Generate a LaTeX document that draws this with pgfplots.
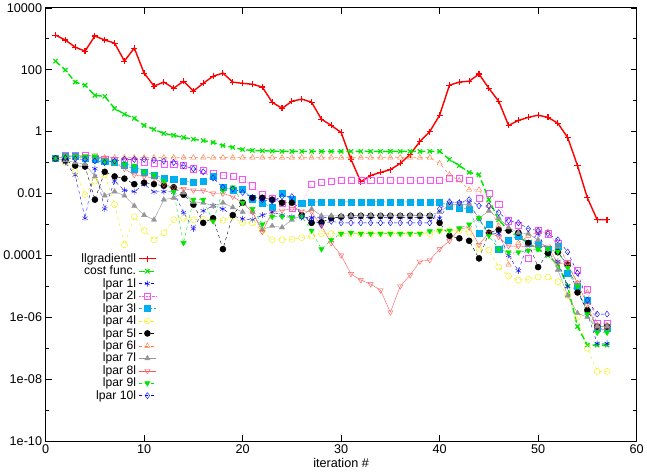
\documentclass[border=0pt]{standalone}
\usepackage{pgfplots}
\pgfplotsset{compat=1.18}
\usepackage{fontspec}
\setmainfont{Liberation Sans}
\definecolor{cmag}{RGB}{255,80,255}
\definecolor{corange}{RGB}{255,120,60}
\definecolor{cgrey}{RGB}{150,150,150}
\definecolor{clred}{RGB}{255,90,90}
\definecolor{cgreen}{RGB}{0,230,0}
\definecolor{cyell}{RGB}{240,240,0}
\begin{document}
\begin{tikzpicture}
\begin{axis}[
  scale only axis, width=584pt, height=428pt,
  xmin=0, xmax=60, ymin=-10, ymax=4,
  xtick={0,10,...,60}, ytick={-10,-8,...,4},
  yticklabels={1e-10,1e-08,1e-06,0.0001,0.01,1,100,10000},
  minor ytick={-9,-7,...,3},
  tick align=inside, tick style={black, line width=0.6pt},
  major tick length=6pt, minor tick length=3.5pt,
  xticklabel style={font=\fontsize{12.5}{14}\selectfont},
  yticklabel style={font=\fontsize{12.5}{14}\selectfont},
  xlabel={iteration \#}, xlabel style={font=\fontsize{12.5}{14}\selectfont, yshift=2pt},
  /pgf/number format/assume math mode=true,
  axis line style={line width=0.8pt},
  legend plot pos=right, legend cell align=right,
  legend style={draw=none, fill=none, at={(0.055,0.44)}, anchor=north west,
     font=\fontsize{12}{12.5}\selectfont, row sep=-1.9pt, inner sep=1pt},
  every axis plot/.append style={mark size=3pt},
]
\addplot[red, line width=1.4pt, mark=+, mark options={solid, line width=1.1pt}] coordinates {
(1,3.12)(2,2.96)(3,2.73)(4,2.60)(5,3.09)(6,2.96)(7,2.86)(8,2.28)(9,2.70)(10,1.89)
(11,1.47)(12,1.60)(13,1.40)(14,1.63)(15,1.31)(16,1.56)(17,1.79)(18,1.89)(19,1.60)(20,1.56)
(21,1.53)(22,1.44)(23,0.95)(24,0.75)(25,0.98)(26,1.05)(27,0.95)(28,0.40)(29,0.20)(30,-0.03)
(31,-0.9)(32,-1.62)(33,-1.42)(34,-1.32)(35,-1.23)(36,-1.03)(37,-0.74)(38,-0.32)(39,0.0)(40,0.53)
(41,1.5)(42,1.6)(43,1.63)(44,1.86)(45,1.40)(46,0.98)(47,0.2)(48,0.36)(49,0.46)(50,0.53)
(51,0.46)(52,0.27)(53,-0.19)(54,-1.1)(55,-2.14)(56,-2.85)(57,-2.85)};
\addlegendentry{llgradientll}
\addplot[cgreen, line width=1.4pt, dash pattern=on 6pt off 3pt, mark=x, mark options={solid, line width=1.1pt}] coordinates {
(1,2.28)(2,1.99)(3,1.60)(4,1.5)(5,1.17)(6,1.14)(7,0.75)(8,0.56)(9,0.43)(10,0.2)
(11,0.07)(12,-0.06)(13,-0.12)(14,-0.19)(15,-0.25)(16,-0.29)(17,-0.35)(18,-0.45)(19,-0.51)(20,-0.58)
(21,-0.61)(22,-0.62)(23,-0.63)(24,-0.64)(25,-0.64)(26,-0.64)(27,-0.64)(28,-0.64)(29,-0.64)(30,-0.64)
(31,-0.64)(32,-0.64)(33,-0.64)(34,-0.64)(35,-0.64)(36,-0.64)(37,-0.64)(38,-0.64)(39,-0.64)(40,-0.64)
(41,-0.9)(42,-1.1)(43,-1.32)(44,-1.39)(45,-2.2)(46,-2.85)(47,-3.2)(48,-3.4)(49,-3.6)(50,-3.8)
(51,-4.0)(52,-4.3)(53,-5.0)(54,-6.3)(55,-6.9)(56,-6.9)(57,-6.9)};
\addlegendentry{cost func.}
\addplot[blue, thin, dashed, mark=asterisk, mark options={solid}] coordinates {
(1,-0.87)(2,-1.0)(3,-1.4)(4,-2.8)(5,-1.2)(6,-2.5)(7,-1.6)(8,-1.9)(9,-1.94)(10,-1.7)
(11,-1.95)(12,-1.94)(13,-1.95)(14,-2.62)(15,-3.14)(16,-2.56)(17,-2.4)(18,-2.5)(19,-2.72)(20,-2.82)
(21,-2.85)(22,-2.7)(23,-2.6)(24,-2.7)(25,-2.75)(26,-2.78)(27,-2.78)(28,-2.78)(29,-2.78)(30,-2.78)
(31,-2.78)(32,-2.78)(33,-2.78)(34,-2.78)(35,-2.78)(36,-2.78)(37,-2.78)(38,-2.78)(39,-2.78)(40,-2.8)
(41,-2.3)(42,-2.3)(43,-2.3)(44,-2.85)(45,-3.27)(46,-3.3)(47,-4.0)(48,-4.5)(49,-3.6)(50,-3.3)
(51,-3.93)(52,-4.2)(53,-5.0)(54,-5.1)(55,-5.87)(56,-6.85)(57,-6.85)};
\addlegendentry{lpar 1l}
\addplot[cmag, thin, densely dotted, mark=square, mark options={solid}] coordinates {
(1,-0.87)(2,-0.77)(3,-0.77)(4,-0.77)(5,-0.85)(6,-0.9)(7,-0.92)(8,-0.95)(9,-0.97)(10,-1.0)
(11,-1.03)(12,-1.06)(13,-1.06)(14,-1.1)(15,-1.2)(16,-1.25)(17,-1.35)(18,-1.42)(19,-1.45)(20,-1.55)
(21,-1.75)(22,-2.04)(23,-2.14)(24,-2.3)(25,-2.46)(26,-2.3)(27,-1.7)(28,-1.65)(29,-1.6)(30,-1.58)
(31,-1.58)(32,-1.58)(33,-1.58)(34,-1.58)(35,-1.58)(36,-1.58)(37,-1.58)(38,-1.58)(39,-1.58)(40,-1.58)
(41,-1.52)(42,-1.52)(43,-1.58)(44,-2.14)(45,-2.0)(46,-2.36)(47,-2.88)(48,-3.04)(49,-4.1)(50,-3.2)
(51,-3.3)(52,-3.6)(53,-4.25)(54,-4.47)(55,-5.1)(56,-6.2)(57,-6.2)};
\addlegendentry{lpar 2l}
\addplot[cyan, thin, dash dot, mark=square*, mark options={solid}] coordinates {
(1,-0.87)(2,-0.8)(3,-0.8)(4,-0.85)(5,-0.9)(6,-0.95)(7,-1.0)(8,-1.1)(9,-1.2)(10,-1.3)
(11,-1.4)(12,-1.5)(13,-1.55)(14,-1.6)(15,-1.65)(16,-1.6)(17,-1.45)(18,-1.8)(19,-1.9)(20,-1.87)
(21,-2.17)(22,-2.3)(23,-2.45)(24,-2.0)(25,-2.2)(26,-2.3)(27,-2.27)(28,-2.27)(29,-2.27)(30,-2.27)
(31,-2.27)(32,-2.27)(33,-2.27)(34,-2.27)(35,-2.27)(36,-2.27)(37,-2.27)(38,-2.27)(39,-2.27)(40,-2.27)
(41,-2.4)(42,-2.46)(43,-2.5)(44,-3.27)(45,-3.0)(46,-3.8)(47,-3.5)(48,-3.37)(49,-3.6)(50,-3.63)
(51,-3.8)(52,-3.7)(53,-4.57)(54,-5.0)(55,-5.45)(56,-6.36)(57,-6.36)};
\addlegendentry{lpar 3l}
\addplot[cyell, thin, dashed, mark=o, mark options={solid}] coordinates {
(1,-0.87)(2,-1.0)(3,-1.3)(4,-2.04)(5,-1.6)(6,-1.4)(7,-2.36)(8,-3.66)(9,-2.75)(10,-3.2)
(11,-3.5)(12,-3.27)(13,-2.85)(14,-2.8)(15,-2.85)(16,-2.83)(17,-2.85)(18,-2.87)(19,-2.75)(20,-2.95)
(21,-2.95)(22,-3.2)(23,-3.5)(24,-3.5)(25,-3.48)(26,-3.43)(27,-3.38)(28,-3.3)(29,-3.3)(30,-3.3)
(31,-3.3)(32,-3.3)(33,-3.3)(34,-3.3)(35,-3.3)(36,-3.3)(37,-3.3)(38,-3.3)(39,-3.3)(40,-3.2)
(41,-3.2)(42,-3.2)(43,-3.25)(44,-3.8)(45,-3.83)(46,-4.38)(47,-4.67)(48,-4.8)(49,-4.78)(50,-4.7)
(51,-4.7)(52,-4.85)(53,-5.3)(54,-6.0)(55,-7.0)(56,-7.75)(57,-7.75)};
\addlegendentry{lpar 4l}
\addplot[black, thin, dashed, mark=*, mark options={solid}] coordinates {
(1,-0.87)(2,-0.93)(3,-1.1)(4,-1.13)(5,-2.2)(6,-1.3)(7,-1.45)(8,-1.52)(9,-1.7)(10,-1.65)
(11,-1.7)(12,-1.75)(13,-1.8)(14,-2.04)(15,-2.36)(16,-2.95)(17,-2.8)(18,-3.8)(19,-2.7)(20,-2.3)
(21,-2.14)(22,-2.14)(23,-2.2)(24,-2.3)(25,-2.3)(26,-2.7)(27,-2.95)(28,-2.93)(29,-2.8)(30,-2.75)
(31,-2.72)(32,-2.72)(33,-2.72)(34,-2.72)(35,-2.72)(36,-2.72)(37,-2.72)(38,-2.72)(39,-2.72)(40,-2.95)
(41,-3.37)(42,-3.45)(43,-3.53)(44,-4.1)(45,-3.27)(46,-3.17)(47,-3.2)(48,-3.27)(49,-3.6)(50,-4.38)
(51,-3.93)(52,-3.9)(53,-4.3)(54,-5.2)(55,-5.77)(56,-6.3)(57,-6.3)};
\addlegendentry{lpar 5l}
\addplot[corange, thin, dashed, mark=triangle, mark options={solid}] coordinates {
(1,-0.87)(2,-0.8)(3,-0.84)(4,-0.84)(5,-0.84)(6,-0.84)(7,-0.84)(8,-0.84)(9,-0.84)(10,-0.84)
(11,-0.84)(12,-0.84)(13,-0.84)(14,-0.84)(15,-0.84)(16,-0.84)(17,-0.84)(18,-0.84)(19,-0.84)(20,-0.84)
(21,-0.84)(22,-0.84)(23,-0.84)(24,-0.84)(25,-0.84)(26,-0.84)(27,-0.84)(28,-0.84)(29,-0.84)(30,-0.84)
(31,-0.84)(32,-0.84)(33,-0.84)(34,-0.84)(35,-0.84)(36,-0.84)(37,-0.84)(38,-0.84)(39,-0.84)(40,-1.03)
(41,-1.39)(42,-1.58)(43,-1.88)(44,-1.88)(45,-2.4)(46,-3.05)(47,-4.3)(48,-3.6)(49,-3.37)(50,-3.24)
(51,-3.24)(52,-3.7)(53,-4.25)(54,-4.9)(55,-5.2)(56,-6.26)(57,-6.26)};
\addlegendentry{lpar 6l}
\addplot[cgrey, thin, mark=triangle*, mark options={solid}] coordinates {
(1,-0.87)(2,-0.93)(3,-1.0)(4,-1.05)(5,-1.45)(6,-2.07)(7,-1.94)(8,-2.07)(9,-2.4)(10,-2.7)
(11,-2.85)(12,-2.2)(13,-2.14)(14,-1.97)(15,-2.27)(16,-2.3)(17,-2.4)(18,-2.3)(19,-2.45)(20,-2.6)
(21,-2.6)(22,-3.17)(23,-3.05)(24,-3.1)(25,-2.85)(26,-2.72)(27,-2.5)(28,-2.72)(29,-2.72)(30,-2.72)
(31,-2.72)(32,-2.7)(33,-2.7)(34,-2.7)(35,-2.7)(36,-2.7)(37,-2.7)(38,-2.7)(39,-2.7)(40,-2.6)
(41,-2.36)(42,-2.36)(43,-2.36)(44,-2.8)(45,-2.56)(46,-2.8)(47,-3.1)(48,-3.27)(49,-3.3)(50,-3.5)
(51,-3.8)(52,-4.47)(53,-5.3)(54,-5.87)(55,-6.0)(56,-6.3)(57,-6.3)};
\addlegendentry{lpar 7l}
\addplot[clred, thin, mark=triangle, mark options={solid, rotate=180}] coordinates {
(1,-0.87)(2,-0.8)(3,-0.78)(4,-0.78)(5,-0.77)(6,-0.9)(7,-1.0)(8,-1.2)(9,-1.4)(10,-1.45)
(11,-1.5)(12,-1.7)(13,-1.8)(14,-1.85)(15,-1.9)(16,-1.9)(17,-2.0)(18,-2.0)(19,-2.1)(20,-2.3)
(21,-2.6)(22,-3.24)(23,-2.6)(24,-2.55)(25,-2.5)(26,-2.55)(27,-2.6)(28,-3.05)(29,-3.6)(30,-4.0)
(31,-4.6)(32,-4.8)(33,-4.93)(34,-5.13)(35,-5.84)(36,-5.0)(37,-4.64)(38,-4.2)(39,-4.15)(40,-3.8)
(41,-3.53)(42,-3.14)(43,-3.1)(44,-3.66)(45,-3.27)(46,-3.4)(47,-3.7)(48,-3.7)(49,-3.72)(50,-3.72)
(51,-3.72)(52,-4.25)(53,-4.3)(54,-4.9)(55,-5.6)(56,-6.4)(57,-6.4)};
\addlegendentry{lpar 8l}
\addplot[cgreen, thin, dashed, mark=triangle*, mark options={solid, rotate=180}] coordinates {
(1,-0.87)(2,-0.8)(3,-0.8)(4,-0.8)(5,-0.8)(6,-0.95)(7,-1.0)(8,-1.05)(9,-1.1)(10,-1.3)
(11,-1.4)(12,-1.6)(13,-1.95)(14,-3.6)(15,-2.2)(16,-2.2)(17,-2.9)(18,-1.9)(19,-1.8)(20,-2.3)
(21,-2.5)(22,-3.0)(23,-2.75)(24,-2.75)(25,-2.78)(26,-2.75)(27,-3.2)(28,-3.8)(29,-3.5)(30,-3.3)
(31,-3.27)(32,-3.3)(33,-3.3)(34,-3.3)(35,-3.3)(36,-3.3)(37,-3.3)(38,-3.3)(39,-3.22)(40,-3.2)
(41,-3.2)(42,-3.12)(43,-3.0)(44,-2.8)(45,-3.37)(46,-3.8)(47,-3.9)(48,-3.9)(49,-3.85)(50,-3.8)
(51,-3.8)(52,-3.88)(53,-4.4)(54,-5.0)(55,-5.9)(56,-6.5)(57,-6.5)};
\addlegendentry{lpar 9l}
\addplot[blue, thin, dashed, mark=diamond, mark options={solid}] coordinates {
(1,-0.87)(2,-0.85)(3,-0.88)(4,-0.9)(5,-0.95)(6,-1.0)(7,-0.95)(8,-0.9)(9,-0.9)(10,-0.9)
(11,-0.92)(12,-0.95)(13,-1.0)(14,-1.1)(15,-1.2)(16,-1.3)(17,-1.5)(18,-1.8)(19,-1.85)(20,-1.97)
(21,-2.14)(22,-2.2)(23,-2.25)(24,-2.1)(25,-2.1)(26,-2.75)(27,-2.85)(28,-3.0)(29,-2.9)(30,-2.95)
(31,-2.95)(32,-2.95)(33,-2.95)(34,-2.95)(35,-2.95)(36,-2.95)(37,-2.95)(38,-2.95)(39,-2.95)(40,-2.5)
(41,-2.27)(42,-2.3)(43,-2.2)(44,-2.4)(45,-2.4)(46,-2.62)(47,-2.88)(48,-2.95)(49,-3.14)(50,-3.2)
(51,-3.3)(52,-3.5)(53,-3.89)(54,-4.57)(55,-5.45)(56,-5.9)(57,-5.9)};
\addlegendentry{lpar 10l}
\end{axis}
\end{tikzpicture}
\end{document}
